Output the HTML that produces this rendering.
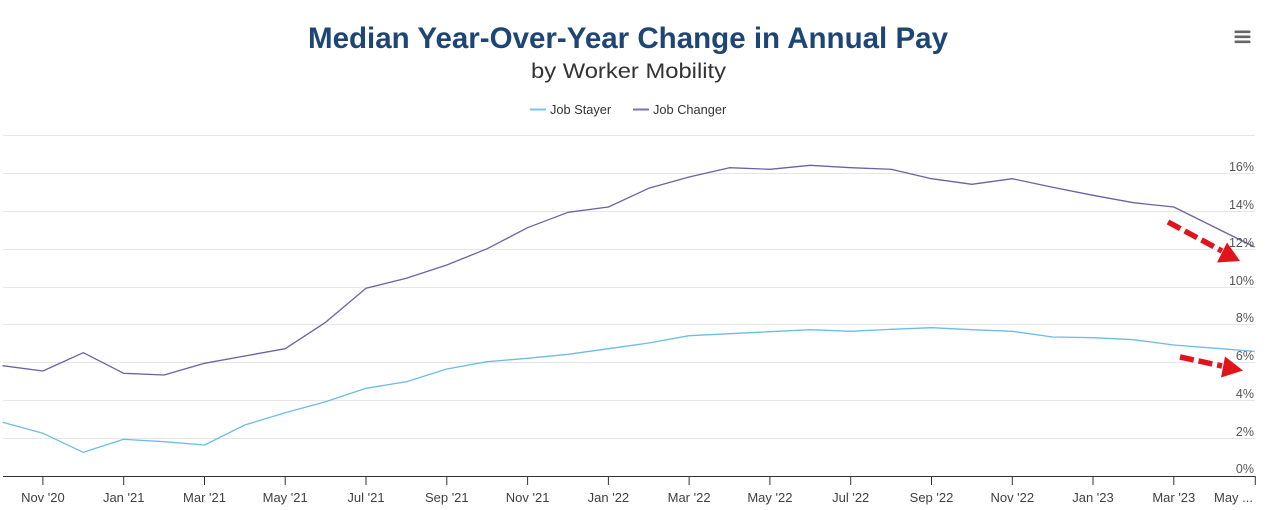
<!DOCTYPE html>
<html>
<head>
<meta charset="utf-8">
<style>
  html, body { margin:0; padding:0; background:#ffffff; }
  body { width:1280px; height:510px; overflow:hidden; }
  svg { display:block; font-family:"Liberation Sans", Arial, sans-serif; }
</style>
</head>
<body>
<svg width="1280" height="510" viewBox="0 0 1280 510" xmlns="http://www.w3.org/2000/svg">
  <rect x="0" y="0" width="1280" height="510" fill="#ffffff"/>

  <!-- Title -->
  <text x="628" y="48" text-anchor="middle" font-size="30" font-weight="bold" fill="#1d4677" textLength="640" lengthAdjust="spacingAndGlyphs">Median Year-Over-Year Change in Annual Pay</text>
  <text x="628.5" y="78" text-anchor="middle" font-size="21" fill="#333333" textLength="195" lengthAdjust="spacingAndGlyphs">by Worker Mobility</text>

  <!-- Menu icon -->
  <g fill="#666666">
    <rect x="1234.5" y="30.5" width="16" height="2.6" rx="1"/>
    <rect x="1234.5" y="35.5" width="16" height="2.6" rx="1"/>
    <rect x="1234.5" y="40.5" width="16" height="2.6" rx="1"/>
  </g>

  <!-- Legend -->
  <line x1="530" y1="109.5" x2="546" y2="109.5" stroke="#7cc3ea" stroke-width="2"/>
  <text x="550" y="114" font-size="12.8" fill="#333333">Job Stayer</text>
  <line x1="633" y1="109.5" x2="649" y2="109.5" stroke="#7a72b5" stroke-width="2"/>
  <text x="653" y="114" font-size="12.8" fill="#333333">Job Changer</text>

  <!-- Gridlines -->
  <g stroke="#e6e6e6" stroke-width="1">
    <line x1="3" y1="135.5" x2="1255" y2="135.5"/>
    <line x1="3" y1="173.5" x2="1255" y2="173.5"/>
    <line x1="3" y1="211.5" x2="1255" y2="211.5"/>
    <line x1="3" y1="249.5" x2="1255" y2="249.5"/>
    <line x1="3" y1="287.5" x2="1255" y2="287.5"/>
    <line x1="3" y1="324.5" x2="1255" y2="324.5"/>
    <line x1="3" y1="362.5" x2="1255" y2="362.5"/>
    <line x1="3" y1="400.5" x2="1255" y2="400.5"/>
    <line x1="3" y1="438.5" x2="1255" y2="438.5"/>
  </g>

  <!-- X axis -->
  <line x1="3" y1="476.5" x2="1255.5" y2="476.5" stroke="#333333" stroke-width="1"/>
  <g stroke="#333333" stroke-width="1">
    <line x1="42.9" y1="476" x2="42.9" y2="485"/>
    <line x1="123.7" y1="476" x2="123.7" y2="485"/>
    <line x1="204.5" y1="476" x2="204.5" y2="485"/>
    <line x1="285.2" y1="476" x2="285.2" y2="485"/>
    <line x1="366.0" y1="476" x2="366.0" y2="485"/>
    <line x1="446.8" y1="476" x2="446.8" y2="485"/>
    <line x1="527.6" y1="476" x2="527.6" y2="485"/>
    <line x1="608.4" y1="476" x2="608.4" y2="485"/>
    <line x1="689.1" y1="476" x2="689.1" y2="485"/>
    <line x1="769.9" y1="476" x2="769.9" y2="485"/>
    <line x1="850.7" y1="476" x2="850.7" y2="485"/>
    <line x1="931.5" y1="476" x2="931.5" y2="485"/>
    <line x1="1012.3" y1="476" x2="1012.3" y2="485"/>
    <line x1="1093.0" y1="476" x2="1093.0" y2="485"/>
    <line x1="1173.8" y1="476" x2="1173.8" y2="485"/>
    <line x1="1255.3" y1="476" x2="1255.3" y2="485"/>
  </g>
  <g font-size="13" fill="#404040" text-anchor="middle">
    <text x="42.9" y="502">Nov '20</text>
    <text x="123.7" y="502">Jan '21</text>
    <text x="204.5" y="502">Mar '21</text>
    <text x="285.2" y="502">May '21</text>
    <text x="366.0" y="502">Jul '21</text>
    <text x="446.8" y="502">Sep '21</text>
    <text x="527.6" y="502">Nov '21</text>
    <text x="608.4" y="502">Jan '22</text>
    <text x="689.1" y="502">Mar '22</text>
    <text x="769.9" y="502">May '22</text>
    <text x="850.7" y="502">Jul '22</text>
    <text x="931.5" y="502">Sep '22</text>
    <text x="1012.3" y="502">Nov '22</text>
    <text x="1093.0" y="502">Jan '23</text>
    <text x="1173.8" y="502">Mar '23</text>
    <text x="1253" y="502" text-anchor="end">May ...</text>
  </g>

  <!-- Series -->
  <polyline fill="none" stroke="#6cbde4" stroke-width="1.3" stroke-linejoin="round"
    points="2.5,422.3 42.9,433.3 83.3,452.3 123.7,439.3 164.1,441.7 204.5,445 244.8,425 285.2,412.7 325.6,401.7 366.0,388.3 406.4,381.7 446.8,369 487.2,361.7 527.6,358.3 568.0,354.3 608.4,348.7 648.7,343 689.1,335.7 729.5,333.7 769.9,331.7 810.3,329.7 850.7,331.3 891.1,329.3 931.5,327.7 971.9,329.7 1012.3,331.3 1052.6,337 1093.0,337.7 1133.4,339.7 1173.8,345 1214.2,348.2 1254.6,351.4"/>
  <polyline fill="none" stroke="#6a62a6" stroke-width="1.3" stroke-linejoin="round"
    points="2.5,365.7 42.9,371 83.3,352.7 123.7,373.3 164.1,375 204.5,363.3 244.8,356 285.2,348.7 325.6,322.3 366.0,288.3 406.4,278.3 446.8,265 487.2,248.7 527.6,227.7 568.0,212.3 608.4,207 648.7,188.3 689.1,177 729.5,167.7 769.9,169.3 810.3,165.3 850.7,167.7 891.1,169.3 931.5,178.7 971.9,184.3 1012.3,178.7 1052.6,187.3 1093.0,195.3 1133.4,202.7 1173.8,207 1214.2,227 1254.6,247"/>

  <!-- Y axis labels -->
  <g font-size="12.5" fill="#555555" text-anchor="end">
    <text x="1254" y="171">16%</text>
    <text x="1254" y="209">14%</text>
    <text x="1254" y="247">12%</text>
    <text x="1254" y="285">10%</text>
    <text x="1254" y="322">8%</text>
    <text x="1254" y="360">6%</text>
    <text x="1254" y="398">4%</text>
    <text x="1254" y="436">2%</text>
    <text x="1254" y="473">0%</text>
  </g>

  <!-- Red annotation arrows -->
  <g stroke="#e3131c" stroke-width="5.5" fill="none" stroke-dasharray="14 5">
    <line x1="1168" y1="222" x2="1222" y2="251"/>
    <line x1="1180" y1="357" x2="1222" y2="366"/>
  </g>
  <polygon points="1227,242.5 1217,262.5 1240,261" fill="#e3131c"/>
  <polygon points="1225,356.5 1221,377.5 1243,370.5" fill="#e3131c"/>
</svg>
</body>
</html>
